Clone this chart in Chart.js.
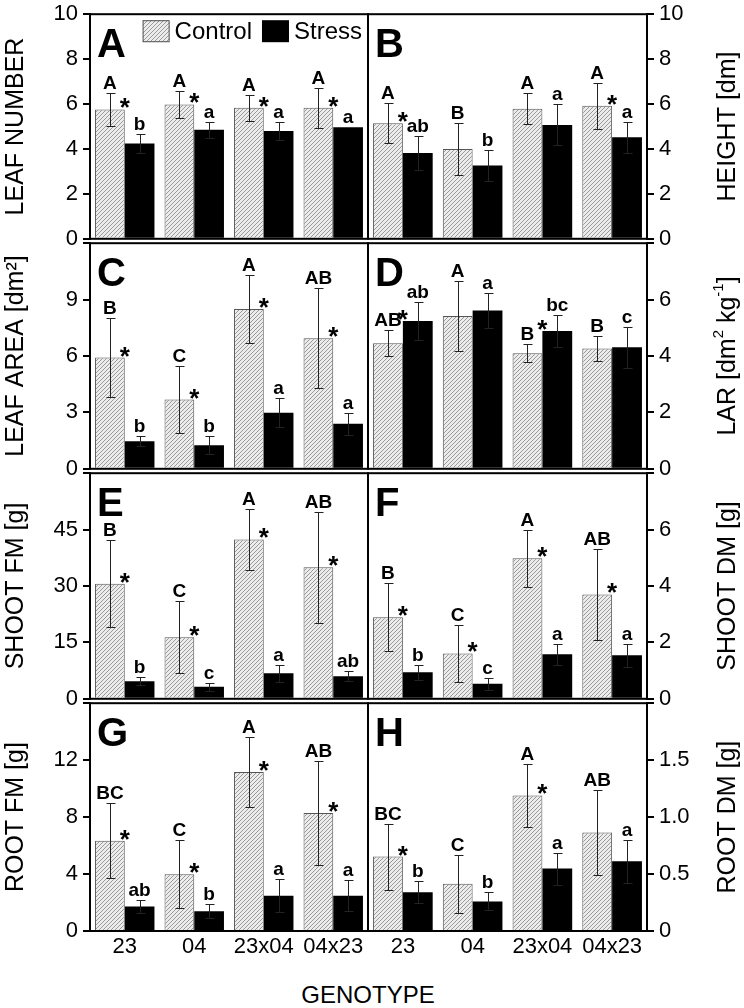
<!DOCTYPE html>
<html>
<head>
<meta charset="utf-8">
<script src="https://cdn.jsdelivr.net/npm/chart.js@4"></script>
<style>
  body { margin: 0; background: #fff; }
  #fig { position: relative; width: 744px; height: 1008px; overflow: hidden; font-family: "Liberation Sans", Arial, sans-serif; }
  #fig canvas { position: absolute; }
  #xtitle { position: absolute; left: 0; width: 736px; top: 983px; text-align: center; font-size: 24px; line-height: 24px; }
</style>
</head>
<body>
<div id="fig">
  <div id="xtitle">GENOTYPE</div>
</div>
<script>
const genotypes = ['23', '04', '23x04', '04x23'];

// A - leaf number
const leafNumCtrl = [5.76, 5.98, 5.83, 5.83];
const leafNumCtrlSE = [0.74, 0.61, 0.59, 0.88];
const leafNumStress = [4.24, 4.85, 4.80, 4.97];
const leafNumStressSE = [0.42, 0.37, 0.38, 0];
// B - height
const heightCtrl = [5.15, 4.00, 5.79, 5.92];
const heightCtrlSE = [0.89, 1.15, 0.69, 1.03];
const heightStress = [3.82, 3.26, 5.07, 4.52];
const heightStressSE = [0.74, 0.70, 0.91, 0.68];
// C - leaf area
const leafAreaCtrl = [5.92, 3.68, 8.50, 6.95];
const leafAreaCtrlSE = [2.12, 1.77, 1.80, 2.66];
const leafAreaStress = [1.46, 1.25, 2.98, 2.39];
const leafAreaStressSE = [0.26, 0.47, 0.78, 0.59];
// D - LAR
const larCtrl = [4.45, 5.42, 4.10, 4.27];
const larCtrlSE = [0.46, 1.25, 0.31, 0.43];
const larStress = [5.24, 5.61, 4.89, 4.31];
const larStressSE = [0.66, 0.62, 0.57, 0.72];
// E - shoot FM
const shootFmCtrl = [30.6, 16.4, 42.4, 35.0];
const shootFmCtrlSE = [11.6, 9.5, 8.1, 14.8];
const shootFmStress = [4.7, 3.2, 6.8, 6.0];
const shootFmStressSE = [1.1, 1.0, 2.3, 1.3];
// F - shoot DM
const shootDmCtrl = [2.89, 1.61, 4.98, 3.70];
const shootDmCtrlSE = [1.21, 1.02, 1.02, 1.60];
const shootDmStress = [0.94, 0.53, 1.58, 1.54];
const shootDmStressSE = [0.26, 0.21, 0.38, 0.42];
// G - root FM
const rootFmCtrl = [6.34, 3.99, 11.17, 8.29];
const rootFmCtrlSE = [2.65, 2.40, 2.44, 3.64];
const rootFmStress = [1.72, 1.39, 2.48, 2.48];
const rootFmStressSE = [0.49, 0.49, 1.14, 1.09];
// H - root DM
const rootDmCtrl = [0.653, 0.415, 1.19, 0.865];
const rootDmCtrlSE = [0.29, 0.255, 0.275, 0.376];
const rootDmStress = [0.34, 0.26, 0.548, 0.612];
const rootDmStressSE = [0.095, 0.08, 0.14, 0.188];

// significance letters and asterisks
const lettersCtrl = {
  A: ['A', 'A', 'A', 'A'], B: ['A', 'B', 'A', 'A'], C: ['B', 'C', 'A', 'AB'], D: ['AB', 'A', 'B', 'B'],
  E: ['B', 'C', 'A', 'AB'], F: ['B', 'C', 'A', 'AB'], G: ['BC', 'C', 'A', 'AB'], H: ['BC', 'C', 'A', 'AB']
};
const lettersStress = {
  A: ['b', 'a', 'a', 'a'], B: ['ab', 'b', 'a', 'a'], C: ['b', 'b', 'a', 'a'], D: ['ab', 'a', 'bc', 'c'],
  E: ['b', 'c', 'a', 'ab'], F: ['b', 'c', 'a', 'a'], G: ['ab', 'b', 'a', 'a'], H: ['b', 'b', 'a', 'a']
};
const stars = {
  A: [1, 1, 1, 1], B: [1, 0, 0, 1], C: [1, 1, 1, 1], D: [1, 0, 1, 0],
  E: [1, 1, 1, 1], F: [1, 1, 1, 1], G: [1, 1, 1, 1], H: [1, 0, 1, 0]
};

// axis ranges
const yMax = { A: 10, B: 10, C: 12, D: 8, E: 60, F: 8, G: 16, H: 2 };
const yStep = { A: 2, B: 2, C: 3, D: 2, E: 15, F: 2, G: 4, H: 0.5 };

const F = '"Liberation Sans", Arial, sans-serif';
Chart.defaults.font.family = F;
Chart.defaults.color = '#000';

const panels = [
  { id: 'A', side: 'left', title: 'LEAF NUMBER', ctrl: leafNumCtrl, ctrlSE: leafNumCtrlSE, stress: leafNumStress, stressSE: leafNumStressSE, legend: true },
  { id: 'B', side: 'right', title: [['HEIGHT [dm]', 0]], ctrl: heightCtrl, ctrlSE: heightCtrlSE, stress: heightStress, stressSE: heightStressSE },
  { id: 'C', side: 'left', title: 'LEAF AREA [dm\u00B2]', ctrl: leafAreaCtrl, ctrlSE: leafAreaCtrlSE, stress: leafAreaStress, stressSE: leafAreaStressSE },
  { id: 'D', side: 'right', title: [['LAR [dm', 0], ['2', 1], [' kg', 0], ['-1', 1], [']', 0]], ctrl: larCtrl, ctrlSE: larCtrlSE, stress: larStress, stressSE: larStressSE },
  { id: 'E', side: 'left', title: 'SHOOT FM [g]', ctrl: shootFmCtrl, ctrlSE: shootFmCtrlSE, stress: shootFmStress, stressSE: shootFmStressSE },
  { id: 'F', side: 'right', title: [['SHOOT DM [g]', 0]], ctrl: shootDmCtrl, ctrlSE: shootDmCtrlSE, stress: shootDmStress, stressSE: shootDmStressSE },
  { id: 'G', side: 'left', title: 'ROOT FM [g]', ctrl: rootFmCtrl, ctrlSE: rootFmCtrlSE, stress: rootFmStress, stressSE: rootFmStressSE },
  { id: 'H', side: 'right', title: [['ROOT DM [g]', 0]], ctrl: rootDmCtrl, ctrlSE: rootDmCtrlSE, stress: rootDmStress, stressSE: rootDmStressSE }
];

function makeHatch() {
  const c = document.createElement('canvas');
  c.width = 4; c.height = 4;
  const g = c.getContext('2d');
  g.fillStyle = '#ececec';
  g.fillRect(0, 0, 4, 4);
  g.fillStyle = '#9a9a9a';
  for (let i = 0; i < 4; i++) g.fillRect(i, 3 - i, 1, 1);
  return g.createPattern(c, 'repeat');
}
const hatch = makeHatch();

// frame, error bars, letters, panel tag, legend, right-hand titles
const decor = {
  id: 'decor',
  afterDatasetsDraw(chart, args, opts) {
    const p = opts.panel;
    const { ctx, chartArea: a } = chart;
    const y = chart.scales.y;
    ctx.save();
    ctx.strokeStyle = '#000';
    ctx.lineWidth = 2;
    ctx.strokeRect(a.left, a.top, a.right - a.left, a.bottom - a.top);

    const cBars = chart.getDatasetMeta(0).data;
    const sBars = chart.getDatasetMeta(1).data;
    ctx.strokeStyle = '#222';
    ctx.lineWidth = 1;
    ctx.beginPath();
    [[cBars, p.ctrl, p.ctrlSE], [sBars, p.stress, p.stressSE]].forEach(([bars, vals, se]) => {
      bars.forEach((bar, j) => {
        if (!se[j]) return;
        const x = Math.round(bar.x) + 0.5;
        const yt = Math.round(y.getPixelForValue(vals[j] + se[j])) + 0.5;
        const yb = Math.round(y.getPixelForValue(vals[j] - se[j])) + 0.5;
        ctx.moveTo(x, yb); ctx.lineTo(x, yt);
        ctx.moveTo(x - 4, yt); ctx.lineTo(x + 5, yt);
        ctx.moveTo(x - 4, yb); ctx.lineTo(x + 5, yb);
      });
    });
    ctx.stroke();

    ctx.fillStyle = '#000';
    ctx.textAlign = 'center';
    ctx.textBaseline = 'alphabetic';
    ctx.font = 'bold 19px ' + F;
    genotypes.forEach((g, j) => {
      ctx.fillText(lettersCtrl[p.id][j], cBars[j].x, y.getPixelForValue(p.ctrl[j] + p.ctrlSE[j]) - 4);
      ctx.fillText(lettersStress[p.id][j], sBars[j].x, y.getPixelForValue(p.stress[j] + p.stressSE[j]) - 4);
    });
    ctx.font = 'bold 26px ' + F;
    genotypes.forEach((g, j) => {
      if (!stars[p.id][j]) return;
      const top = Math.min(y.getPixelForValue(p.ctrl[j]), y.getPixelForValue(p.stress[j]));
      ctx.fillText('*', (cBars[j].x + sBars[j].x) / 2, top - 8 + 15);
    });

    ctx.textAlign = 'left';
    ctx.font = 'bold 40px ' + F;
    ctx.fillText(p.id, a.left + 7, a.top + 43);

    if (p.legend) {
      ctx.font = '24px ' + F;
      const wC = ctx.measureText('Control').width;
      const wS = ctx.measureText('Stress').width;
      let x = a.right - 6 - (27 + 5 + wC + 10 + 27 + 5 + wS);
      const by = a.top + 6;
      ctx.fillStyle = hatch;
      ctx.fillRect(x, by, 27, 22);
      ctx.strokeStyle = '#555';
      ctx.lineWidth = 1;
      ctx.strokeRect(x + 0.5, by + 0.5, 26, 21);
      ctx.fillStyle = '#000';
      ctx.fillText('Control', x + 32, a.top + 25);
      x += 27 + 5 + wC + 10;
      ctx.fillRect(x, by, 27, 22);
      ctx.fillText('Stress', x + 32, a.top + 25);
    }

    if (p.side === 'right') {
      ctx.translate(a.right + 81, (a.top + a.bottom) / 2);
      ctx.rotate(-Math.PI / 2);
      ctx.textBaseline = 'middle';
      const big = '25px ' + F, small = '15px ' + F;
      let total = 0;
      p.title.forEach(([t, sup]) => { ctx.font = sup ? small : big; total += ctx.measureText(t).width; });
      let x = -total / 2;
      p.title.forEach(([t, sup]) => {
        ctx.font = sup ? small : big;
        ctx.fillText(t, x, sup ? -9 : 0);
        x += ctx.measureText(t).width;
      });
    }
    ctx.restore();
  }
};

const fig = document.getElementById('fig');
const rowEdges = [12, 241, 471, 701, 931];

panels.forEach((p, i) => {
  const row = Math.floor(i / 2), col = i % 2;
  const last = row === 3;
  const top = rowEdges[row], bottom = rowEdges[row + 1];
  const cv = document.createElement('canvas');
  const w = col ? 380 : 372;
  const h = (bottom - top) + 16 + (last ? 34 : 16);
  cv.width = w; cv.height = h;
  cv.style.left = (col ? 364 : 0) + 'px';
  cv.style.top = (top - 16) + 'px';
  fig.appendChild(cv);

  const max = yMax[p.id];
  new Chart(cv, {
    type: 'bar',
    data: {
      labels: genotypes,
      datasets: [
        { label: 'Control', data: p.ctrl, backgroundColor: hatch, borderColor: '#555', borderWidth: 1 },
        { label: 'Stress', data: p.stress, backgroundColor: '#000', borderColor: '#000', borderWidth: 0 }
      ]
    },
    options: {
      responsive: false,
      animation: false,
      devicePixelRatio: 1,
      events: [],
      categoryPercentage: 0.855,
      barPercentage: 1.0,
      layout: { padding: { top: 16, bottom: last ? 0 : 16, left: col ? 4 : 0, right: col ? 0 : 4 } },
      plugins: {
        legend: { display: false },
        tooltip: { enabled: false },
        decor: { panel: p }
      },
      scales: {
        x: {
          display: last,
          grid: { display: false, drawTicks: false },
          border: { display: true, color: '#000', width: 2 },
          ticks: { font: { size: 22 }, padding: 3, maxRotation: 0, autoSkip: false },
          afterFit: s => { s.height = last ? 34 : 0; }
        },
        y: {
          position: p.side,
          min: 0,
          max: max,
          border: { display: true, color: '#000', width: 2 },
          grid: { drawOnChartArea: false, tickLength: 7, color: '#000', lineWidth: 2 },
          ticks: {
            stepSize: yStep[p.id],
            padding: 5,
            font: { size: 22 },
            callback: v => (row > 0 && v === max) ? '' : (p.id === 'H' && v !== 0 ? v.toFixed(1) : String(v))
          },
          title: {
            display: p.side === 'left',
            text: typeof p.title === 'string' ? p.title : '',
            font: { size: 25 },
            padding: { top: 1, bottom: 0 }
          },
          afterFit: s => { s.width = p.side === 'left' ? 90 : 97; }
        }
      }
    },
    plugins: [decor]
  });
});
</script>
</body>
</html>
